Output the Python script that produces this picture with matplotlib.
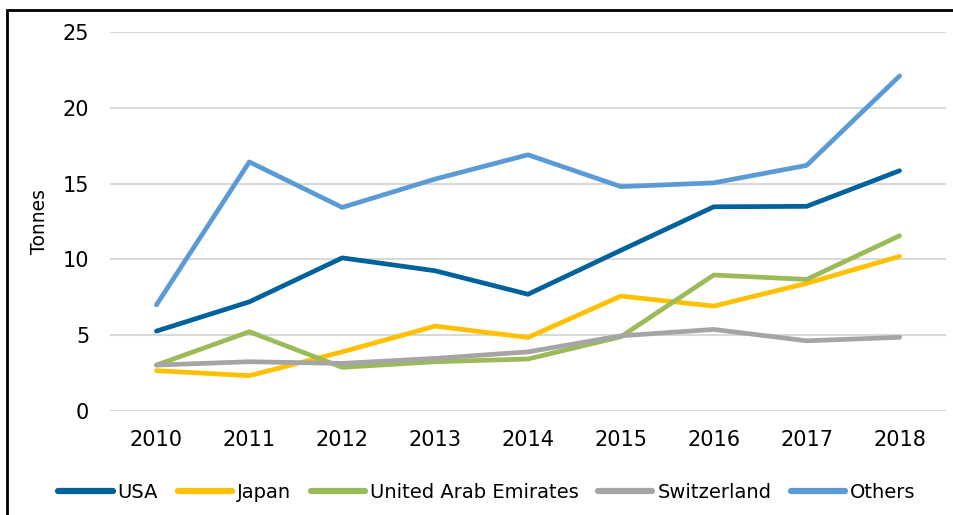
import matplotlib
matplotlib.use("Agg")
import matplotlib.pyplot as plt
from matplotlib.patches import Rectangle

years = ["2010", "2011", "2012", "2013", "2014", "2015", "2016", "2017", "2018"]
usa = [5.27, 7.2, 10.1, 9.25, 7.7, 10.6, 13.47, 13.5, 15.85]
japan = [2.66, 2.33, 3.9, 5.6, 4.85, 7.58, 6.92, 8.42, 10.2]
uae = [3.03, 5.23, 2.88, 3.25, 3.43, 4.9, 8.97, 8.68, 11.56]
switzerland = [3.03, 3.25, 3.14, 3.47, 3.9, 4.96, 5.38, 4.63, 4.86]
others = [7.0, 16.43, 13.43, 15.3, 16.9, 14.8, 15.05, 16.2, 22.1]

series = [
    ("USA", usa, "#00629B"),
    ("Japan", japan, "#FFC000"),
    ("United Arab Emirates", uae, "#9BBB59"),
    ("Switzerland", switzerland, "#A5A5A5"),
    ("Others", others, "#5B9BD5"),
]

fig = plt.figure(figsize=(9.54, 5.15), dpi=100)
ax = fig.add_axes([110/954, 1-411/515, (946-110)/954, (411-32)/515])

x = list(range(len(years)))
for name, vals, col in series:
    ax.plot(x, vals, color=col, lw=3.4, label=name, solid_capstyle="round",
            solid_joinstyle="round", clip_on=False)

ax.set_xlim(-0.5, len(years) - 0.5)
ax.set_ylim(0, 25)
ax.set_yticks([0, 5, 10, 15, 20, 25])
ax.set_xticks(x)
ax.set_xticklabels(years)
ax.yaxis.grid(True, color="#D9D9D9", lw=1.5)
ax.set_axisbelow(True)
for s in ax.spines.values():
    s.set_visible(False)
ax.tick_params(axis="both", length=0, labelsize=15, colors="black")
ax.tick_params(axis="x", pad=14)
ax.tick_params(axis="y", pad=15)
ax.set_ylabel("Tonnes", fontsize=13.5, labelpad=10)

leg = fig.legend(loc="center", bbox_to_anchor=(487/954, 1-492/515), ncol=5,
                 frameon=False, fontsize=14, handlelength=2.8,
                 handletextpad=0.25, columnspacing=1.0)
for h in leg.get_lines():
    h.set_linewidth(4.5)

fig.patches.append(Rectangle((7/954, -0.1), 1.2, 1-10/515+0.1, transform=fig.transFigure,
                             fill=False, edgecolor="black", lw=2, figure=fig))

fig.savefig("out.png", dpi=100, facecolor="white")
